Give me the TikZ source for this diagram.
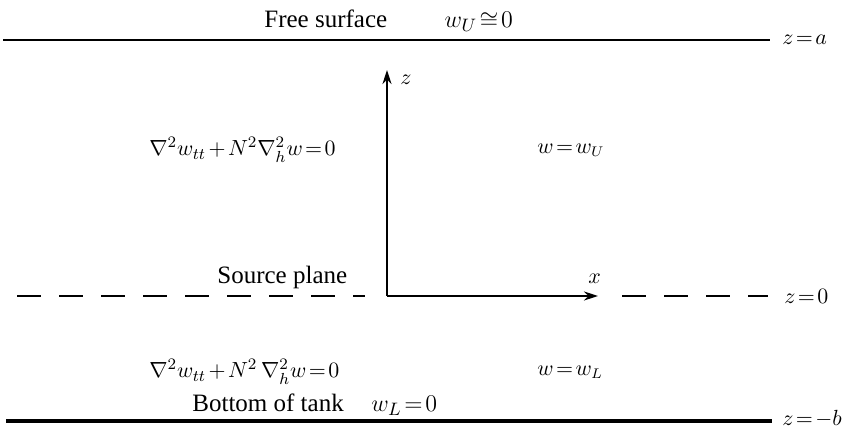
\documentclass[tikz,border=0pt]{standalone}
\usepackage{fontspec}
\setmainfont{Liberation Serif}
\usetikzlibrary{arrows.meta,positioning}
\newcommand\tightmath{\thickmuskip=2mu\relax\medmuskip=2mu\relax}

\begin{document}
\begin{tikzpicture}[x=0.5pt,y=-0.5pt,
  txt/.style={anchor=west,inner sep=1pt,font=\fontsize{12.5}{14}\selectfont\tightmath},
  eqn/.style={anchor=west,inner sep=1pt,font=\fontsize{10.5}{13}\selectfont\tightmath},
  lev/.style={anchor=west,inner sep=1pt,font=\fontsize{10.5}{13}\selectfont\tightmath},
  surf/.style={line width=1.1pt},
  plane/.style={line width=1.2pt,dash pattern=on 12pt off 9pt},
  bed/.style={line width=2.2pt},
  axis/.style={-{Stealth[length=7pt,width=4.5pt]},line width=1pt},
]
  \useasboundingbox (0,0) rectangle (848,427);

  % levels of the tank
  \coordinate (Sl) at (3,40);    \coordinate (Sr) at (770,40);
  \coordinate (Pl) at (17,296);  \coordinate (Pm) at (365,296);
  \coordinate (Pn) at (622,296); \coordinate (Pr) at (768,296);
  \coordinate (Bl) at (6,421);   \coordinate (Br) at (772,421);
  \draw[surf] (Sl) -- (Sr);
  \draw[plane] (Pl) -- (Pm);
  \draw[plane] (Pn) -- (Pr);
  \draw[bed] (Bl) -- (Br);
  \node[lev] (za) at (780,40) {$z=a$};
  \node[lev] (z0) at (782,296) {$z=0$};
  \node[lev] (zb) at (780,419) {$z=-b$};

  % axes
  \coordinate (O) at (387,296);
  \coordinate (Zt) at (387,70);
  \coordinate (Xt) at (598,296);
  \draw[axis] (O) -- (Zt);
  \draw[axis] (O) -- (Xt);
  \node[eqn] (zlab) at (398,80) {$z$};
  \node[eqn] (xlab) at (586,279) {$x$};

  % texts
  \node[txt] (free) at (262,21) {Free surface\hspace{2.3em}$w_U\cong0$};
  \node[eqn,font=\fontsize{11}{13}\selectfont\tightmath] (eqU) at (147,150) {$\nabla^2 w_{tt}+N^2\nabla_h^2 w=0$};
  \node[eqn] (wU) at (535,150) {$w=w_U$};
  \node[txt] (src) at (215,277) {Source plane};
  \node[eqn,font=\fontsize{11}{13}\selectfont\tightmath] (eqL) at (147,372) {$\nabla^2 w_{tt}+N^2\,\nabla_h^2 w=0$};
  \node[eqn] (wL) at (535,372) {$w=w_L$};
  \node[txt] (bot) at (190,405) {Bottom of tank\hspace{1.1em}$w_L=0$};
\end{tikzpicture}
\end{document}
